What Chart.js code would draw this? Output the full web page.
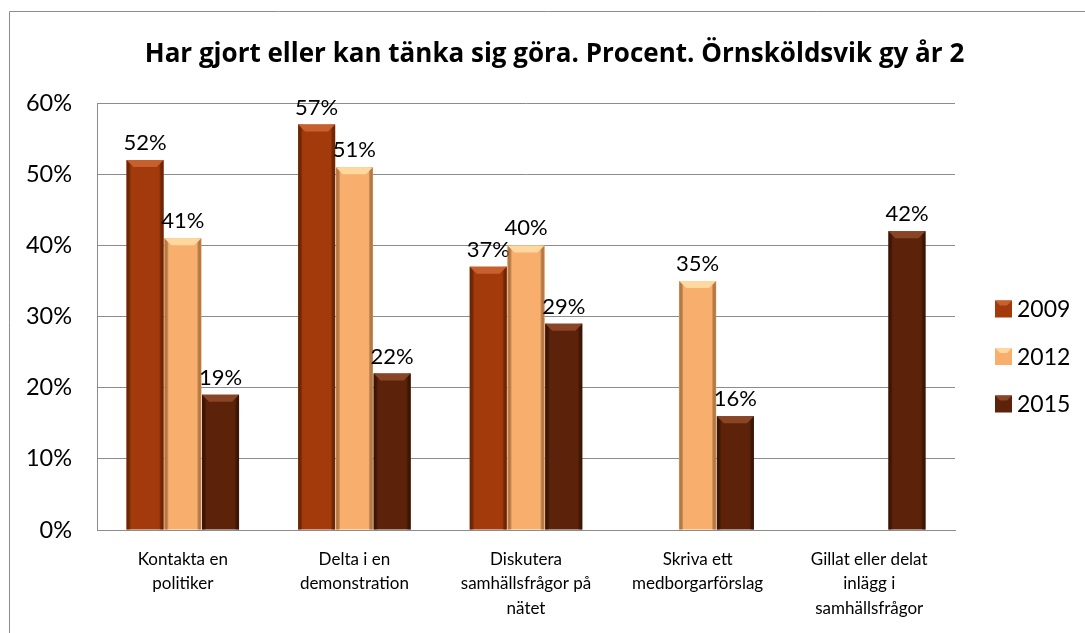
<!DOCTYPE html>
<html>
<head>
<meta charset="utf-8">
<script src="https://cdn.jsdelivr.net/npm/chart.js@4"></script>
<style>
  html, body { margin: 0; padding: 0; background: #fff; }
  #wrap { width: 1085px; height: 633px; position: relative; }
</style>
</head>
<body>
<div id="wrap"><canvas id="chart"></canvas></div>
<script>
// Data
const categories = [
    ['Kontakta en', 'politiker'],
    ['Delta i en', 'demonstration'],
    ['Diskutera', 'samhällsfrågor på', 'nätet'],
    ['Skriva ett', 'medborgarförslag'],
    ['Gillat eller delat', 'inlägg i', 'samhällsfrågor']
];
const years = ['2009', '2012', '2015'];
const values2009 = [52, 57, 37, null, null];
const values2012 = [41, 51, 40, 35, null];
const values2015 = [19, 22, 29, 16, 42];
const yTicks = [0, 10, 20, 30, 40, 50, 60];

const titleText = 'Har gjort eller kan tänka sig göra. Procent. Örnsköldsvik gy år 2';

// Colors (bar body, edge shade, top highlight)
const barColors = ['#A23A0B', '#F8AE6C', '#5C230A'];
const edgeColors = ['#7A2805', '#D98A48', '#3E1604'];
const topColors = ['#C8602E', '#FFD8A0', '#8A4426'];

const FONT = 'Lato, "Open Sans", sans-serif';
const TITLE_FONT = '"Open Sans", Lato, sans-serif';

// Bar shading, value labels, legend and outer frame
const decorPlugin = {
    id: 'decor',
    afterLayout(chart) {
        // title is centred on the original chart box, which is a bit wider than the canvas
        chart.titleBlock.left = 24;
        chart.titleBlock.right = chart.width;
    },
    beforeDraw(chart) {
        const c = chart.ctx;
        c.save();
        c.strokeStyle = '#8c8c8c';
        c.lineWidth = 1;
        c.beginPath();
        c.moveTo(9.5, chart.height);
        c.lineTo(9.5, 11.5);
        c.lineTo(chart.width, 11.5);
        c.stroke();
        c.restore();
    },
    afterDatasetsDraw(chart) {
        const c = chart.ctx;
        c.save();
        chart.data.datasets.forEach((ds, di) => {
            const meta = chart.getDatasetMeta(di);
            meta.data.forEach((bar, i) => {
                const v = ds.data[i];
                if (v === null || v === undefined) return;
                const left = bar.x - bar.width / 2;
                const right = bar.x + bar.width / 2;
                const top = bar.y;
                const bottom = bar.base;
                const w = bar.width;
                // side shading
                const g = c.createLinearGradient(left, 0, right, 0);
                g.addColorStop(0, edgeColors[di]);
                g.addColorStop(0.12, 'rgba(0,0,0,0)');
                g.addColorStop(0.88, 'rgba(0,0,0,0)');
                g.addColorStop(1, edgeColors[di]);
                c.fillStyle = g;
                c.fillRect(left, top, w, bottom - top);
                // top bevel
                const bev = 7;
                c.fillStyle = topColors[di];
                c.beginPath();
                c.moveTo(left, top);
                c.lineTo(right, top);
                c.lineTo(right - bev, top + bev);
                c.lineTo(left + bev, top + bev);
                c.closePath();
                c.fill();
                // value label
                c.fillStyle = '#000';
                c.font = '22px ' + FONT;
                c.textAlign = 'center';
                c.textBaseline = 'alphabetic';
                c.fillText(v + '%', bar.x, top - 10);
            });
        });
        // legend
        const legendY = [309, 356.5, 404];
        years.forEach((y, i) => {
            c.fillStyle = barColors[i];
            c.fillRect(995, legendY[i] - 8.5, 17, 17);
            c.fillStyle = topColors[i];
            c.beginPath();
            c.moveTo(995, legendY[i] - 8.5);
            c.lineTo(1012, legendY[i] - 8.5);
            c.lineTo(1007, legendY[i] - 3.5);
            c.lineTo(1000, legendY[i] - 3.5);
            c.closePath();
            c.fill();
            c.fillStyle = '#000';
            c.font = '23px ' + FONT;
            c.textAlign = 'left';
            c.textBaseline = 'middle';
            c.fillText(y, 1017, legendY[i] + 1);
        });
        c.restore();
    }
};

new Chart(document.getElementById('chart'), {
    type: 'bar',
    data: {
        labels: categories,
        datasets: [
            { label: years[0], data: values2009, backgroundColor: barColors[0] },
            { label: years[1], data: values2012, backgroundColor: barColors[1] },
            { label: years[2], data: values2015, backgroundColor: barColors[2] }
        ]
    },
    options: {
        responsive: true,
        maintainAspectRatio: false,
        animation: false,
        devicePixelRatio: 1,
        datasets: {
            bar: {
                categoryPercentage: 0.66,
                barPercentage: 0.98,
                borderWidth: 0
            }
        },
        layout: {
            padding: { top: 3, left: 0, right: 130, bottom: 0 }
        },
        scales: {
            x: {
                afterFit(scale) { scale.height = 103; },
                grid: { display: false, drawTicks: false },
                border: { display: true, color: '#8c8c8c', width: 1 },
                ticks: {
                    color: '#000',
                    padding: 17,
                    maxRotation: 0,
                    autoSkip: false,
                    font: { family: FONT, size: 17, lineHeight: 1.45 }
                }
            },
            y: {
                min: 0,
                max: 60,
                afterFit(scale) { scale.width = 97; },
                afterBuildTicks(scale) {
                    scale.ticks = yTicks.map(v => ({ value: v }));
                },
                grid: { color: '#8c8c8c', lineWidth: 1, drawTicks: false },
                border: { display: true, color: '#8c8c8c', width: 1 },
                ticks: {
                    color: '#000',
                    padding: 25,
                    font: { family: FONT, size: 23.5 },
                    callback: v => v + '%'
                }
            }
        },
        plugins: {
            legend: { display: false },
            tooltip: { enabled: false },
            title: {
                display: true,
                text: titleText,
                color: '#000',
                font: { family: TITLE_FONT, size: 26, weight: 'bold', lineHeight: 1.2 },
                padding: { top: 36, bottom: 33 }
            }
        }
    },
    plugins: [decorPlugin]
});
</script>
</body>
</html>
